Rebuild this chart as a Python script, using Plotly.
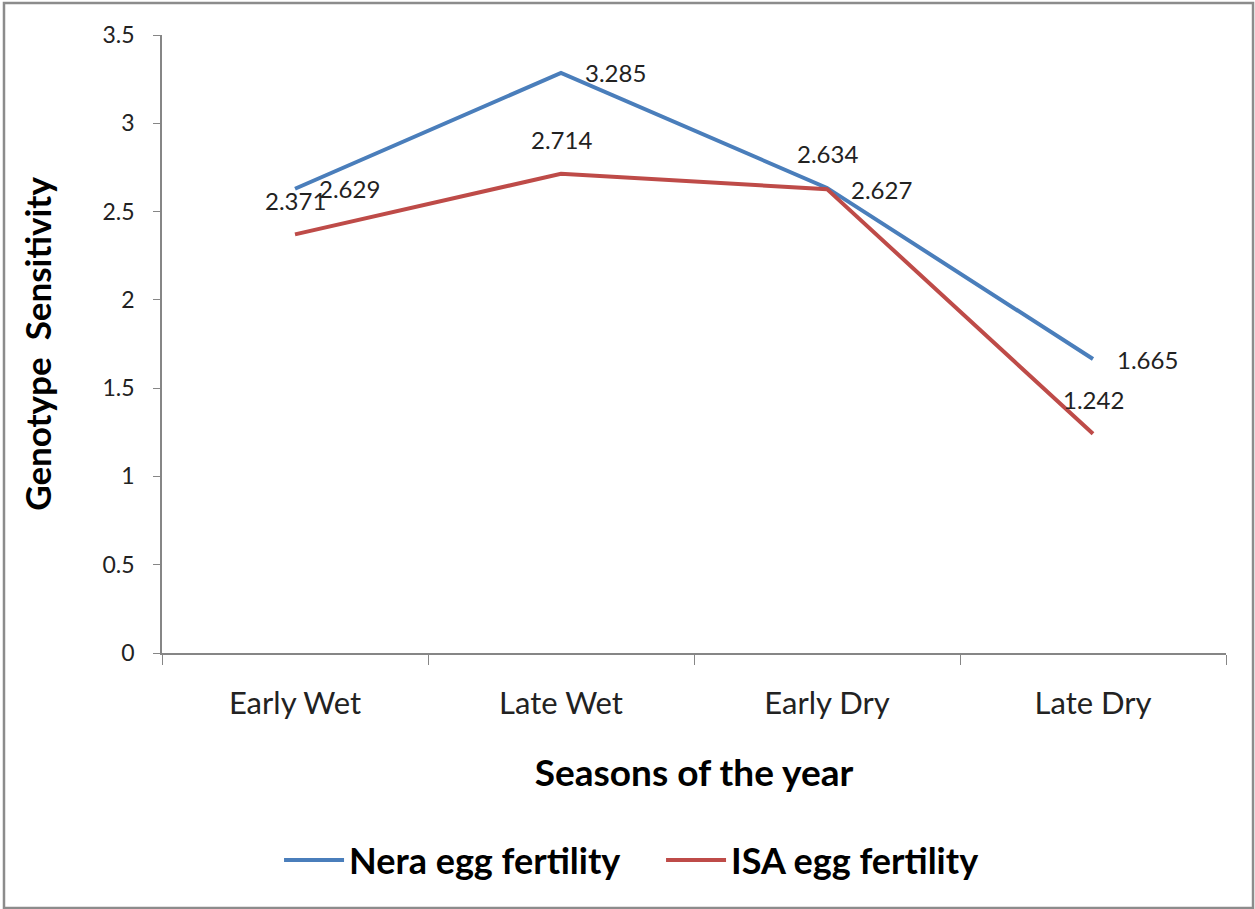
import plotly.graph_objects as go

# Data
seasons = ["Early Wet", "Late Wet", "Early Dry", "Late Dry"]
nera_fertility = [2.629, 3.285, 2.634, 1.665]
isa_fertility = [2.371, 2.714, 2.627, 1.242]

# label placement per point: "right" of the point or "above" it
nera_label_pos = ["right", "right", "above", "right"]
isa_label_pos = ["above", "above", "right", "above"]

BLUE = "#4A7EBB"
RED = "#BE4B48"
AXIS_GREY = "#868686"
FONT = "Lato"

fig = go.Figure()
fig.add_trace(go.Scatter(x=seasons, y=nera_fertility, mode="lines",
                         name="Nera egg fertility",
                         line=dict(color=BLUE, width=4)))
fig.add_trace(go.Scatter(x=seasons, y=isa_fertility, mode="lines",
                         name="ISA egg fertility",
                         line=dict(color=RED, width=4)))

# data labels, Excel style
for values, positions in [(nera_fertility, nera_label_pos), (isa_fertility, isa_label_pos)]:
    for season, v, pos in zip(seasons, values, positions):
        if pos == "right":
            kw = dict(xanchor="left", yanchor="middle", xshift=22, yshift=0)
        else:
            kw = dict(xanchor="center", yanchor="middle", xshift=0, yshift=34)
        fig.add_annotation(x=season, y=v, text=f"{v:.3f}", showarrow=False,
                           font=dict(family=FONT, size=24, color="#222222"), **kw)

# outer chart border
fig.add_shape(type="rect", xref="paper", yref="paper",
              x0=-0.1485, x1=1.0254, y0=-0.4126, y1=1.0518,
              line=dict(color="#8c8c8c", width=2.5), fillcolor="rgba(0,0,0,0)")

fig.update_layout(
    width=1255, height=909,
    margin=dict(l=162, r=29, t=35, b=256),
    plot_bgcolor="white", paper_bgcolor="white",
    font=dict(family=FONT, color="#111111"),
    showlegend=True,
    legend=dict(orientation="h", x=0.11, xanchor="left", y=-0.335, yanchor="middle",
                font=dict(family=FONT, size=36, color="#000000", weight="bold"),
                itemwidth=60, entrywidth=307, tracegroupgap=0),
)
fig.update_xaxes(
    type="category", range=[-0.5, 3.5],
    showline=True, linecolor=AXIS_GREY, linewidth=1.5,
    ticks="outside", tickson="boundaries", ticklen=10, tickcolor=AXIS_GREY,
    ticklabelstandoff=22,
    tickfont=dict(family=FONT, size=31, color="#222222"),
    showgrid=False, zeroline=False,
    title=dict(text="Seasons of the year", standoff=40,
               font=dict(family=FONT, size=37, color="#000000", weight="bold")),
)
fig.update_yaxes(
    range=[0, 3.5], dtick=0.5,
    showline=True, linecolor=AXIS_GREY, linewidth=1.5,
    ticks="outside", ticklen=7, tickcolor=AXIS_GREY,
    ticklabelstandoff=14,
    tickfont=dict(family=FONT, size=23, color="#222222"),
    showgrid=False, zeroline=False,
    title=dict(text="Genotype  Sensitivity", standoff=40,
               font=dict(family=FONT, size=35, color="#000000", weight="bold")),
)

fig.write_html("out.html", config={"displayModeBar": False},
               post_script="document.body.style.margin='0';")
